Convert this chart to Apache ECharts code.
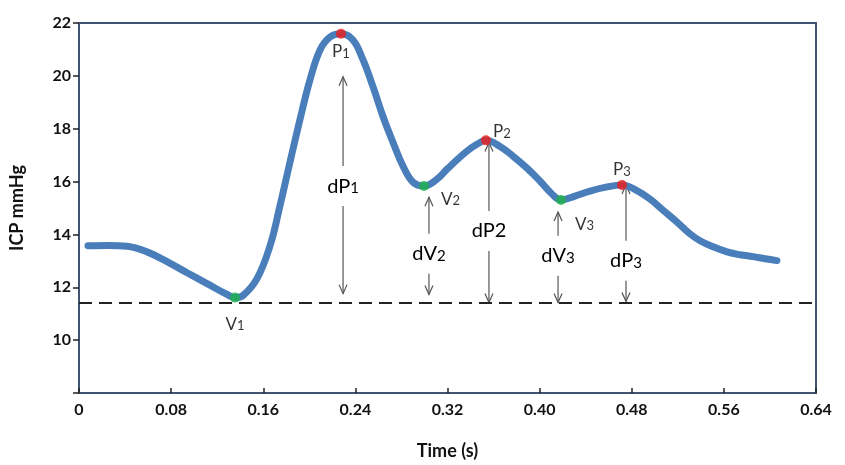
<!DOCTYPE html>
<html>
<head>
<meta charset="utf-8">
<script src="https://cdn.jsdelivr.net/npm/echarts@6/dist/echarts.min.js"></script>
<style>
  html, body { margin: 0; padding: 0; background: #fff; }
  #chart { width: 845px; height: 465px; }
</style>
</head>
<body>
<div id="chart"></div>
<script>
// ICP pulse waveform
const time = [0.0078, 0.0252, 0.0417, 0.0590, 0.0764, 0.0938, 0.1112, 0.1285, 0.1355, 0.1424,
  0.1546, 0.1659, 0.1745, 0.1832, 0.1919, 0.2006, 0.2093, 0.2180, 0.2275, 0.2379,
  0.2466, 0.2553, 0.2640, 0.2727, 0.2814, 0.2900, 0.2996, 0.3109, 0.3196, 0.3369,
  0.3456, 0.3534, 0.3656, 0.3769, 0.3890, 0.4003, 0.4107, 0.4186, 0.4307, 0.4437,
  0.4576, 0.4715, 0.4837, 0.4958, 0.5071, 0.5193, 0.5306, 0.5393, 0.5506, 0.5627,
  0.5740, 0.5853, 0.5957, 0.6061];
const icp = [13.57, 13.58, 13.55, 13.34, 12.97, 12.55, 12.14, 11.73, 11.61, 11.69,
  12.33, 13.57, 15.08, 16.73, 18.35, 19.85, 20.98, 21.47, 21.59, 21.36,
  20.61, 19.59, 18.46, 17.48, 16.58, 15.98, 15.83, 16.09, 16.47, 17.15,
  17.41, 17.56, 17.33, 16.96, 16.51, 16.02, 15.53, 15.30, 15.45, 15.64,
  15.79, 15.87, 15.68, 15.34, 14.92, 14.47, 14.02, 13.76, 13.53, 13.34,
  13.23, 13.16, 13.08, 13.01];

const peakT = [0.2275, 0.3534, 0.4715];
const peakV = [21.59, 17.56, 15.87];
const peakSub = ['1', '2', '3'];

const valleyT = [0.1355, 0.2996, 0.4186];
const valleyV = [11.61, 15.83, 15.30];
const valleySub = ['1', '2', '3'];

const baseline = 11.42;

const arrowX = [0.2293, 0.3039, 0.3560, 0.4160, 0.4750];
const arrowTop = [19.97, 15.41, 17.48, 14.85, 15.87];
const arrowBottom = [11.76, 11.73, 11.42, 11.42, 11.46];
const arrowLabelY = [15.83, 13.27, 14.13, 13.19, 13.00];
const arrowName = ['dP', 'dV', 'dP2', 'dV', 'dP'];
const arrowSub = ['1', '2', '', '3', '3'];

const xTicks = [0, 0.08, 0.16, 0.24, 0.32, 0.40, 0.48, 0.56, 0.64];
const yTicks = [8, 10, 12, 14, 16, 18, 20, 22];

const FONT = 'Lato, "Open Sans", sans-serif';
const frameColor = '#3f5470';

const chart = echarts.init(document.getElementById('chart'));

const richSmall = {
  m: { fontFamily: FONT, fontSize: 17, color: '#000' },
  s: { fontFamily: FONT, fontSize: 13, color: '#000', verticalAlign: 'bottom', padding: [4, 0, 0, 0] }
};
const richBig = {
  m: { fontFamily: FONT, fontSize: 20, color: '#000' },
  s: { fontFamily: FONT, fontSize: 15, color: '#000', verticalAlign: 'bottom', padding: [5, 0, 0, 0] }
};

// label placement for the six dots
const peakLabel = [
  { position: 'bottom', distance: 4 },
  { position: 'right', distance: 2, offset: [0, -9] },
  { position: 'top', distance: 2 }
];
const valleyLabel = [
  { position: 'bottom', distance: 13 },
  { position: 'right', distance: 12, offset: [0, 13] },
  { position: 'right', distance: 9, offset: [0, 24] }
];

function dotData(ts, vs, subs, name, place) {
  return ts.map(function (t, i) {
    return {
      value: [t, vs[i]],
      label: Object.assign({
        show: true,
        color: '#000',
        formatter: '{m|' + name + '}{s|' + subs[i] + '}',
        rich: richSmall
      }, place[i])
    };
  });
}

function arrowItem(params, api) {
  const x = api.value(0);
  const top = api.coord([x, api.value(1)]);
  const bot = api.coord([x, api.value(2)]);
  const mid = api.coord([x, api.value(3)]);
  const i = params.dataIndex;
  const gap = 20, hw = 4, hh = 9;
  const stroke = { stroke: '#555', lineWidth: 1.2, fill: null };
  const text = arrowSub[i] ? '{m|' + arrowName[i] + '}{s|' + arrowSub[i] + '}' : '{m|' + arrowName[i] + '}';
  return {
    type: 'group',
    children: [
      { type: 'line', shape: { x1: top[0], y1: top[1], x2: mid[0], y2: mid[1] - gap }, style: stroke },
      { type: 'line', shape: { x1: bot[0], y1: bot[1], x2: mid[0], y2: mid[1] + gap }, style: stroke },
      { type: 'polyline', shape: { points: [[top[0] - hw, top[1] + hh], [top[0], top[1]], [top[0] + hw, top[1] + hh]] }, style: stroke },
      { type: 'polyline', shape: { points: [[bot[0] - hw, bot[1] - hh], [bot[0], bot[1]], [bot[0] + hw, bot[1] - hh]] }, style: stroke },
      {
        type: 'text',
        x: mid[0], y: mid[1],
        style: { text: text, rich: richBig, align: 'center', verticalAlign: 'middle', fill: '#000' }
      }
    ]
  };
}

const option = {
  animation: false,
  backgroundColor: '#fff',
  textStyle: { fontFamily: FONT },
  grid: {
    left: 79, right: 29, top: 23, bottom: 70,
    show: true, borderColor: frameColor, borderWidth: 2, backgroundColor: 'transparent'
  },
  xAxis: {
    type: 'value',
    min: xTicks[0], max: xTicks[xTicks.length - 1], interval: 0.08,
    name: 'Time (s)', nameLocation: 'middle', nameGap: 49,
    nameTextStyle: { fontFamily: FONT, fontSize: 18, fontWeight: 'bold', color: '#111' },
    axisLine: { show: true, lineStyle: { color: frameColor, width: 2 } },
    axisTick: { show: true, inside: true, length: 5, lineStyle: { color: '#222', width: 1.5 } },
    axisLabel: {
      margin: 9, fontFamily: FONT, fontSize: 16, fontWeight: 'bold', color: '#111',
      formatter: function (v) { return v === 0 ? '0' : v.toFixed(2); }
    },
    splitLine: { show: false }
  },
  yAxis: {
    type: 'value',
    min: yTicks[0], max: yTicks[yTicks.length - 1], interval: 2,
    name: 'ICP mmHg', nameLocation: 'middle', nameGap: 53, nameRotate: 90,
    nameTextStyle: { fontFamily: FONT, fontSize: 18, fontWeight: 'bold', color: '#111' },
    axisLine: { show: true, lineStyle: { color: frameColor, width: 2 } },
    axisTick: { show: true, inside: false, length: 6, lineStyle: { color: '#222', width: 1.5 } },
    axisLabel: {
      margin: 8, fontFamily: FONT, fontSize: 16, fontWeight: 'bold', color: '#111',
      formatter: function (v) { return v === yTicks[0] ? '' : String(v); }
    },
    splitLine: { show: false }
  },
  series: [
    {
      type: 'line',
      data: time.map(function (t, i) { return [t, icp[i]]; }),
      smooth: 0.4,
      showSymbol: false,
      lineStyle: { color: '#4a7ebb', width: 7, cap: 'round', join: 'round' },
      z: 3,
      markLine: {
        silent: true,
        symbol: ['none', 'none'],
        label: { show: false },
        lineStyle: { color: '#222', width: 2.2, type: [13, 7] },
        data: [{ yAxis: baseline }]
      }
    },
    {
      type: 'custom',
      renderItem: arrowItem,
      data: arrowX.map(function (x, i) { return [x, arrowTop[i], arrowBottom[i], arrowLabelY[i]]; }),
      z: 2
    },
    {
      type: 'scatter',
      symbolSize: 10,
      itemStyle: { color: '#ee1c1c' },
      data: dotData(peakT, peakV, peakSub, 'P', peakLabel),
      z: 5
    },
    {
      type: 'scatter',
      symbolSize: 10,
      itemStyle: { color: '#1fb24a' },
      data: dotData(valleyT, valleyV, valleySub, 'V', valleyLabel),
      z: 5
    }
  ]
};

chart.setOption(option);
</script>
</body>
</html>
